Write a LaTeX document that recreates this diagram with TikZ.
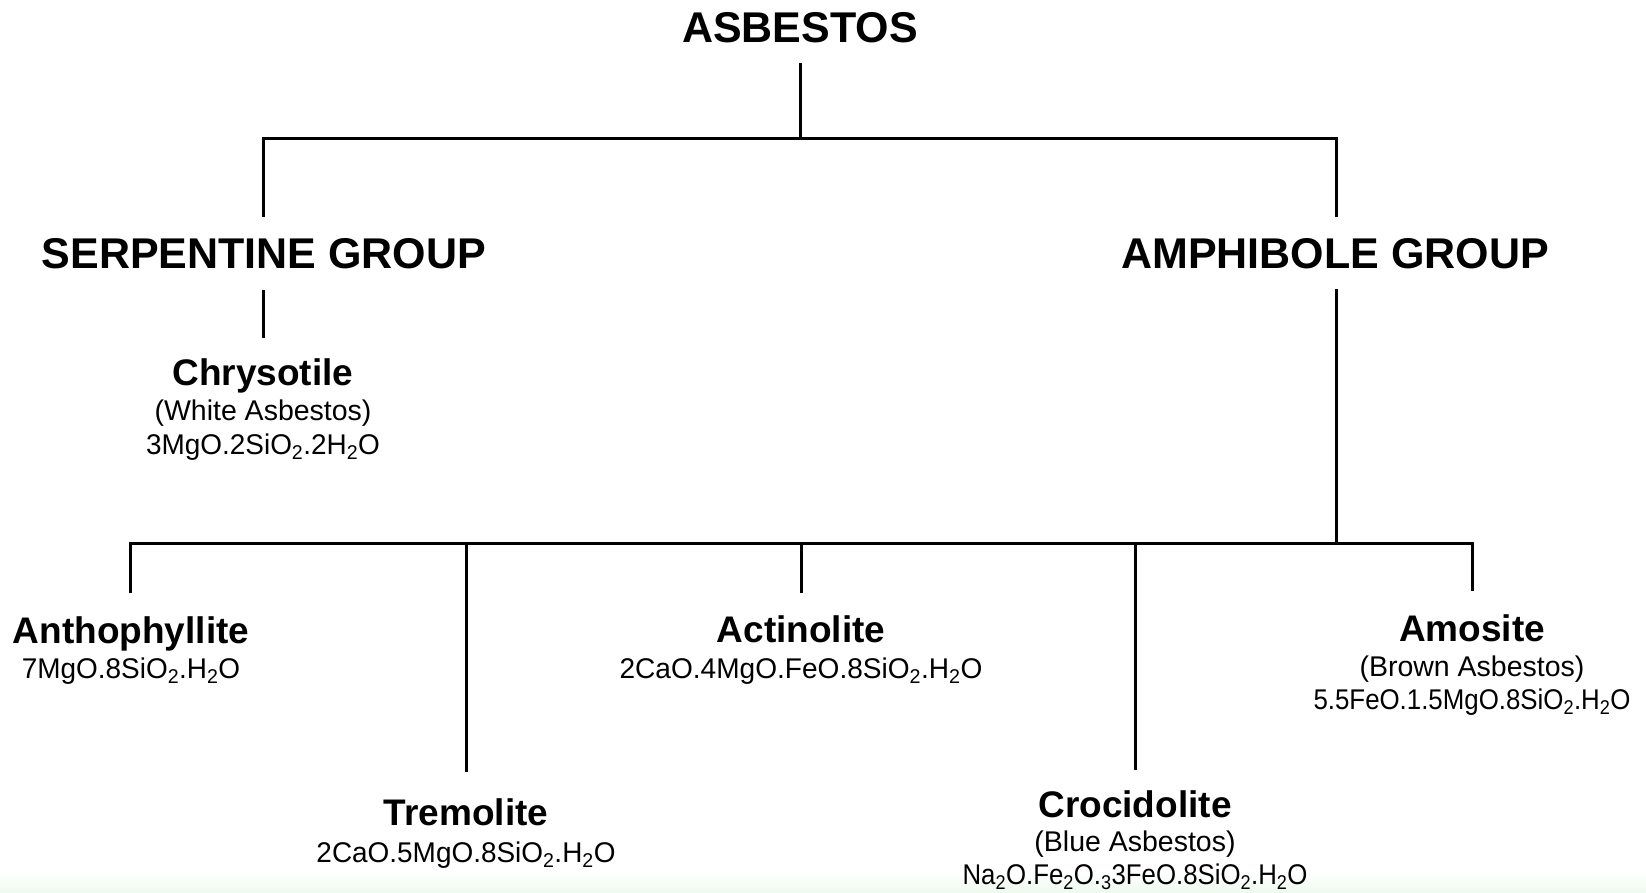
\documentclass[tikz,border=0pt]{standalone}
\usepackage{graphicx}
\usepackage{fontspec}
\setmainfont{Liberation Sans}
\definecolor{bandgreen}{RGB}{238,250,238}
\newcommand{\narrowtext}[2]{\scalebox{#1}[1]{#2}}
\tikzset{
  head/.style={anchor=base,inner sep=0pt,font=\fontsize{43}{48}\selectfont\bfseries},
  mname/.style={anchor=base,inner sep=0pt,font=\fontsize{37}{42}\selectfont\bfseries},
  minfo/.style={anchor=base,inner sep=0pt,font=\fontsize{28.5}{33}\selectfont},
  link/.style={line width=3pt,black,line join=miter},
}
\begin{document}
\begin{tikzpicture}[x=1pt,y=-1pt]
\useasboundingbox (0,0) rectangle (1646,893);
\fill[white] (0,0) rectangle (1646,893);
\shade[top color=white,bottom color=bandgreen] (0,872) rectangle (1646,893);

% headers
\node[head] (asb) at (800,42.5) {ASBESTOS};
\node[head] (serp) at (264,269) {SERPENTINE GROUP};
\node[head] (amph) at (1335,269) {AMPHIBOLE GROUP};

% serpentine member
\node[mname] (chry) at (263,385) {Chrysotile};
\node[minfo] (chryB) at (263,420) {(White Asbestos)};
\node[minfo] (chryC) at (263,454) {\narrowtext{0.98}{3MgO.2SiO\textsubscript{2}.2H\textsubscript{2}O}};

% amphibole members
\node[mname] (antho) at (131,643) {Anthophyllite};
\node[minfo] (anthoB) at (131,678) {\narrowtext{0.98}{7MgO.8SiO\textsubscript{2}.H\textsubscript{2}O}};

\node[mname] (trem) at (466,825) {Tremolite};
\node[minfo] (tremB) at (466,862) {\narrowtext{0.98}{2CaO.5MgO.8SiO\textsubscript{2}.H\textsubscript{2}O}};

\node[mname] (actin) at (801,642) {Actinolite};
\node[minfo] (actinB) at (801,678) {\narrowtext{0.985}{2CaO.4MgO.FeO.8SiO\textsubscript{2}.H\textsubscript{2}O}};

\node[mname] (croc) at (1135,817) {Crocidolite};
\node[minfo] (crocB) at (1135,851) {(Blue Asbestos)};
\node[minfo] (crocC) at (1135,884) {\narrowtext{0.905}{Na\textsubscript{2}O.Fe\textsubscript{2}O.\textsubscript{3}3FeO.8SiO\textsubscript{2}.H\textsubscript{2}O}};

\node[mname] (amos) at (1472,641) {Amosite};
\node[minfo] (amosB) at (1472,676) {(Brown Asbestos)};
\node[minfo] (amosC) at (1472,709) {\narrowtext{0.907}{5.5FeO.1.5MgO.8SiO\textsubscript{2}.H\textsubscript{2}O}};

% junction points
\coordinate (asbdown) at (800,63);
\coordinate (topbar) at (800,139);
\coordinate (serpup) at (263.5,217);
\coordinate (amphup) at (1336,217);
\coordinate (serpdown) at (263.5,290);
\coordinate (chryup) at (263.5,338);
\coordinate (amphdown) at (1336,289);
\coordinate (botbar) at (1336,543);
\coordinate (anthoup) at (130,593);
\coordinate (tremup) at (466,772);
\coordinate (actinup) at (801,593);
\coordinate (crocup) at (1135,770);
\coordinate (amosup) at (1472,591);

% connectors
\draw[link] (asbdown) -- (topbar);
\draw[link] (serpup) |- (topbar) -| (amphup);
\draw[link] (serpdown) -- (chryup);
\draw[link] (amphdown) -- (botbar);
\draw[link] (anthoup) |- (botbar) -| (amosup);
\draw[link] (tremup) -- (tremup |- botbar);
\draw[link] (actinup) -- (actinup |- botbar);
\draw[link] (crocup) -- (crocup |- botbar);
\end{tikzpicture}
\end{document}
